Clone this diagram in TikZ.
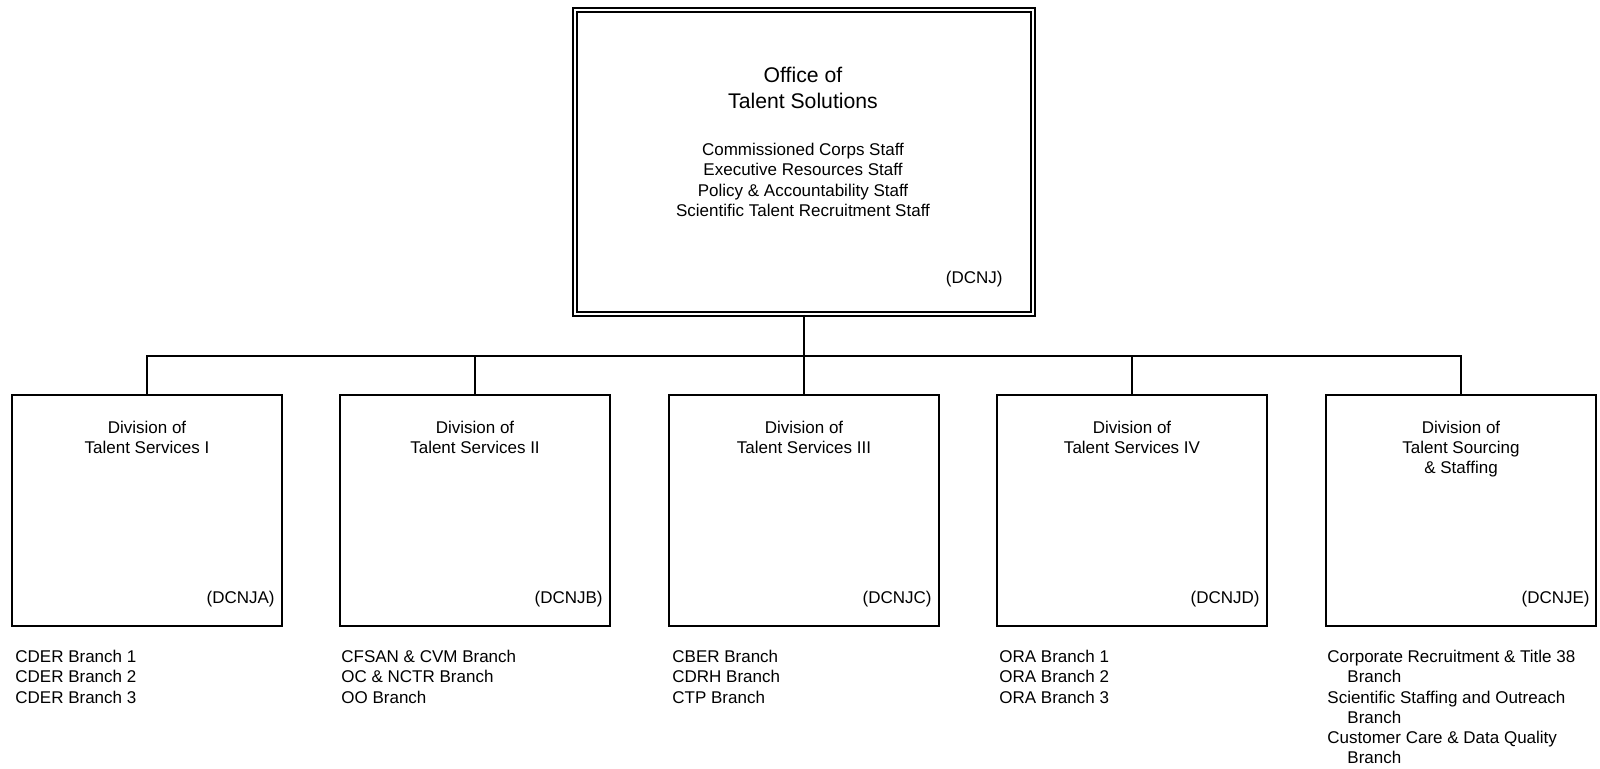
\documentclass[tikz,border=0pt]{standalone}
\usepackage{fontspec}
\setmainfont{Liberation Sans}
\tikzset{
  topbox/.style={draw, double, line width=0.9pt, double distance=1.1pt, minimum width=229pt, minimum height=152pt, inner sep=0pt},
  divbox/.style={draw, line width=1pt, minimum width=135pt, minimum height=115.5pt, inner sep=0pt},
  txt/.style={inner sep=0pt, font=\fontsize{8.5}{10.1}\selectfont},
  bigtxt/.style={inner sep=0pt, align=center, font=\fontsize{10.6}{13}\selectfont},
  link/.style={line width=0.95pt}
}
\begin{document}
\begin{tikzpicture}[x=0.5pt, y=-0.5pt]
\useasboundingbox (0,0) rectangle (1600,768);
% head office
\node[topbox] (dcnj) at (804,162){};
\node[bigtxt, anchor=north] (dcnj-title) at (803,66.5){Office of\\Talent Solutions};
\node[txt, align=center, anchor=north] (dcnj-staff) at (803,143){Commissioned Corps Staff\\Executive Resources Staff\\Policy \& Accountability Staff\\Scientific Talent Recruitment Staff};
\node[txt, anchor=base east] (dcnj-code) at (1003,283){(DCNJ)};
\coordinate (bus) at (804,355.7);
% divisions
\node[divbox] (dcnja) at (147,510.5){};
\node[txt, align=center, anchor=north] (dcnja-name) at (147,420.5){Division of\\Talent Services I};
\node[txt, anchor=base east] (dcnja-code) at (275,603){(DCNJA)};
\node[txt, align=left, anchor=north west] (dcnja-list) at (15,650){CDER Branch 1\\CDER Branch 2\\CDER Branch 3};
\node[divbox] (dcnjb) at (475,510.5){};
\node[txt, align=center, anchor=north] (dcnjb-name) at (475,420.5){Division of\\Talent Services II};
\node[txt, anchor=base east] (dcnjb-code) at (603,603){(DCNJB)};
\node[txt, align=left, anchor=north west] (dcnjb-list) at (341,650){CFSAN \& CVM Branch\\OC \& NCTR Branch\\OO Branch};
\node[divbox] (dcnjc) at (804,510.5){};
\node[txt, align=center, anchor=north] (dcnjc-name) at (804,420.5){Division of\\Talent Services III};
\node[txt, anchor=base east] (dcnjc-code) at (932,603){(DCNJC)};
\node[txt, align=left, anchor=north west] (dcnjc-list) at (672,650){CBER Branch\\CDRH Branch\\CTP Branch};
\node[divbox] (dcnjd) at (1132,510.5){};
\node[txt, align=center, anchor=north] (dcnjd-name) at (1132,420.5){Division of\\Talent Services IV};
\node[txt, anchor=base east] (dcnjd-code) at (1260,603){(DCNJD)};
\node[txt, align=left, anchor=north west] (dcnjd-list) at (999,650){ORA Branch 1\\ORA Branch 2\\ORA Branch 3};
\node[divbox] (dcnje) at (1461,510.5){};
\node[txt, align=center, anchor=north] (dcnje-name) at (1461,420.5){Division of\\Talent Sourcing\\\& Staffing};
\node[txt, anchor=base east] (dcnje-code) at (1590,603){(DCNJE)};
\node[txt, align=left, anchor=north west] (dcnje-list) at (1327,650){Corporate Recruitment \& Title 38\\\hspace*{10pt}Branch\\Scientific Staffing and Outreach\\\hspace*{10pt}Branch\\Customer Care \& Data Quality\\\hspace*{10pt}Branch};
% connectors
\draw[link] (dcnj.south) -- (bus);
\draw[link] (dcnja.north) |- (bus);
\draw[link] (dcnjb.north) |- (bus);
\draw[link] (dcnjc.north) |- (bus);
\draw[link] (dcnjd.north) |- (bus);
\draw[link] (dcnje.north) |- (bus);
\end{tikzpicture}
\end{document}
